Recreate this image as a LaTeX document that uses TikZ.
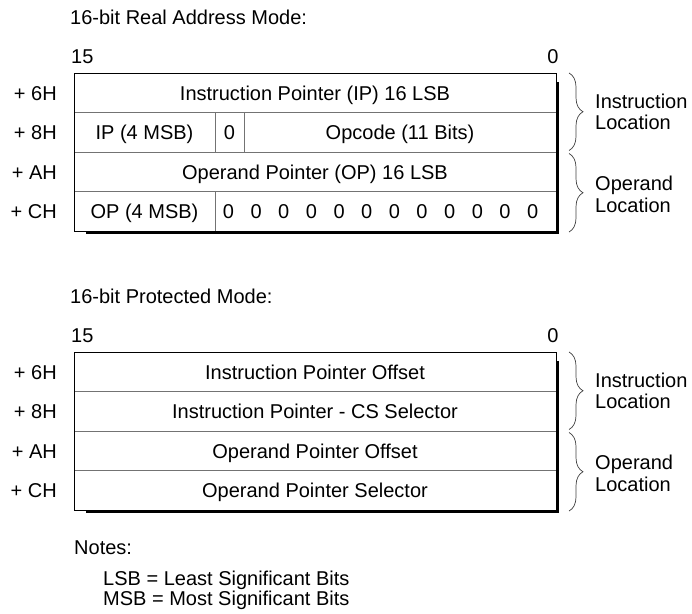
\documentclass[tikz,border=0pt]{standalone}
\usepackage{fontspec}
\setmainfont{Liberation Sans}
\usetikzlibrary{decorations.pathreplacing}
\begin{document}
\begin{tikzpicture}[x=1pt,y=-1pt,
  txt/.style={font=\fontsize{20}{22}\selectfont, inner sep=0pt, anchor=base},
  lbl/.style={txt, anchor=base east},
  lft/.style={txt, anchor=base west},
  outerbox/.style={draw=black, line width=0.9pt, fill=white, inner sep=0pt, anchor=north west, minimum width=482pt, minimum height=158pt},
  innerline/.style={draw=black!55, line width=0.9pt},
  shadowbox/.style={fill=black},
  brc/.style={draw=black!75, line width=0.7pt, decorate, decoration={brace, amplitude=14pt}}
]
\useasboundingbox (0,0) rectangle (692,613);

% ---------- Real address mode ----------
\node[lft] (titleA) at (70,24) {16-bit Real Address Mode:};
\node[lft] (hiA) at (71,63) {15};
\node[txt] (loA) at (553,63) {0};
\fill[shadowbox] (86,82) rectangle (559,234);
\node[outerbox] (boxA) at (74,73) {};
\draw[innerline] (74,112.5) -- (556,112.5);
\draw[innerline] (74,152) -- (556,152);
\draw[innerline] (74,191.5) -- (556,191.5);
\draw[innerline] (215,112.5) -- (215,152);
\draw[innerline] (244,112.5) -- (244,152);
\draw[innerline] (215,191.5) -- (215,231);
\draw[draw=black, line width=0.9pt] (74,73) rectangle (556,231);

\node[lbl] (a6) at (57,100) {+ 6H};
\node[lbl] (a8) at (57,139.5) {+ 8H};
\node[lbl] (aA) at (57,179) {+ AH};
\node[lbl] (aC) at (57,218.5) {+ CH};

\node[txt] (ar1) at (315,100) {Instruction Pointer (IP) 16 LSB};
\node[txt] (ar2a) at (144.5,139.5) {IP (4 MSB)};
\node[txt] (ar2b) at (229.5,139.5) {0};
\node[txt] (ar2c) at (400,139.5) {Opcode (11 Bits)};
\node[txt] (ar3) at (315,179) {Operand Pointer (OP) 16 LSB};
\node[txt] (ar4a) at (144.5,218.5) {OP (4 MSB)};
\foreach \k in {0,...,11}{
  \node[txt] (az\k) at ({228.5+27.65*\k},218.5) {0};
}

\draw[brc] (569,73) -- (569,150.5);
\draw[brc] (569,153.5) -- (569,232);
\node[lft] (aI1) at (595,108) {Instruction};
\node[lft] (aI2) at (595,129) {Location};
\node[lft] (aO1) at (595,190) {Operand};
\node[lft] (aO2) at (595,212) {Location};

% ---------- Protected mode ----------
\node[lft] (titleB) at (70,303) {16-bit Protected Mode:};
\node[lft] (hiB) at (71,342) {15};
\node[txt] (loB) at (553,342) {0};
\fill[shadowbox] (86,361) rectangle (559,513);
\node[outerbox] (boxB) at (74,352) {};
\draw[innerline] (74,391.5) -- (556,391.5);
\draw[innerline] (74,431) -- (556,431);
\draw[innerline] (74,470.5) -- (556,470.5);
\draw[draw=black, line width=0.9pt] (74,352) rectangle (556,510);

\node[lbl] (b6) at (57,379) {+ 6H};
\node[lbl] (b8) at (57,418.5) {+ 8H};
\node[lbl] (bA) at (57,458) {+ AH};
\node[lbl] (bC) at (57,497.5) {+ CH};

\node[txt] (br1) at (315,379) {Instruction Pointer Offset};
\node[txt] (br2) at (315,418.5) {Instruction Pointer - CS Selector};
\node[txt] (br3) at (315,458) {Operand Pointer Offset};
\node[txt] (br4) at (315,497.5) {Operand Pointer Selector};

\draw[brc] (569,352) -- (569,429.5);
\draw[brc] (569,432.5) -- (569,511);
\node[lft] (bI1) at (595,387) {Instruction};
\node[lft] (bI2) at (595,408) {Location};
\node[lft] (bO1) at (595,469) {Operand};
\node[lft] (bO2) at (595,491) {Location};

% ---------- Notes ----------
\node[lft] (notes) at (74,554) {Notes:};
\node[lft] (lsb) at (103,585.5) {LSB = Least Significant Bits};
\node[lft] (msb) at (103,605) {MSB = Most Significant Bits};
\end{tikzpicture}
\end{document}
